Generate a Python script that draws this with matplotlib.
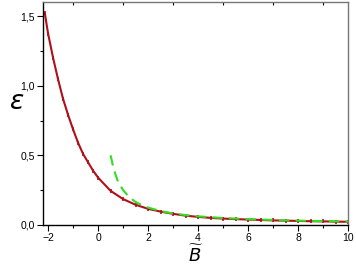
import matplotlib
matplotlib.use('Agg')
import matplotlib.pyplot as plt
from matplotlib.ticker import MultipleLocator, FuncFormatter

# red curve (computed)
b_red = [-2.13, -2.0, -1.8, -1.6, -1.4, -1.2, -1.0, -0.8, -0.6, -0.4, -0.2, 0.0,
         0.5, 1.0, 1.5, 2.0, 2.5, 3.0, 3.5, 4.0, 4.5, 5.0, 5.5, 6.0, 6.5, 7.0,
         7.5, 8.0, 8.5, 9.0, 9.5, 10.0]
eps_red = [1.52, 1.374, 1.20, 1.045, 0.905, 0.79, 0.686, 0.59, 0.51, 0.45, 0.39, 0.34,
           0.245, 0.186, 0.145, 0.116, 0.096, 0.080, 0.067, 0.058, 0.051, 0.046, 0.042,
           0.039, 0.036, 0.033, 0.031, 0.029, 0.027, 0.026, 0.024, 0.023]

# green dashed asymptote
b_green = [0.5, 0.6, 0.7, 0.8, 0.9, 1.0, 1.25, 1.5, 1.75, 2.0, 2.5, 3.0, 3.5, 4.0,
           5.0, 6.0, 7.0, 8.0, 9.0, 10.0]
eps_green = [0.50, 0.42, 0.36, 0.31, 0.28, 0.25, 0.20, 0.165, 0.143, 0.125, 0.10,
             0.083, 0.071, 0.062, 0.050, 0.042, 0.036, 0.031, 0.028, 0.025]

plt.rcParams['font.family'] = ['Liberation Sans', 'DejaVu Sans']

fig = plt.figure(figsize=(3.56, 2.65), dpi=100)
ax = fig.add_axes([0.121, 0.151, 0.857, 0.841])

ax.plot(b_red, eps_red, color='#b0101a', lw=1.5, marker='|', ms=3, mew=1.2, zorder=2)
ax.plot(b_green, eps_green, color='#33dd22', lw=1.5, ls=(0, (5, 3)), zorder=3)

ax.set_xlim(-2.2, 10)
ax.set_ylim(0, 1.6)
ax.xaxis.set_major_locator(MultipleLocator(2))
ax.xaxis.set_minor_locator(MultipleLocator(1))
ax.yaxis.set_major_locator(MultipleLocator(0.5))
ax.yaxis.set_minor_locator(MultipleLocator(0.25))
ax.yaxis.set_major_formatter(FuncFormatter(lambda v, p: f'{v:.1f}'.replace('.', ',')))

ax.tick_params(which='both', direction='out', labelsize=7.5, width=0.8, pad=2)
ax.tick_params(which='major', length=4)
ax.tick_params(which='minor', length=2.5)

# short ticks on the top spine at odd values
sec = ax.secondary_xaxis('top')
sec.set_xticks([-1, 1, 3, 5, 7, 9])
sec.tick_params(direction='in', length=2.5, width=0.8, labeltop=False)
sec.spines['top'].set_visible(False)

for s in ['left', 'bottom']:
    ax.spines[s].set_linewidth(1.0)
for s in ['top', 'right']:
    ax.spines[s].set_color('#777777')
    ax.spines[s].set_linewidth(1.0)

ax.set_xlabel(r'$\widetilde{B}$', fontsize=13, family='serif', labelpad=1)
ax.set_ylabel(r'$\epsilon$', fontsize=19, rotation=0, va='center', ha='center')
ax.yaxis.set_label_coords(-0.085, 0.55)

fig.savefig('out.png', dpi=100)
